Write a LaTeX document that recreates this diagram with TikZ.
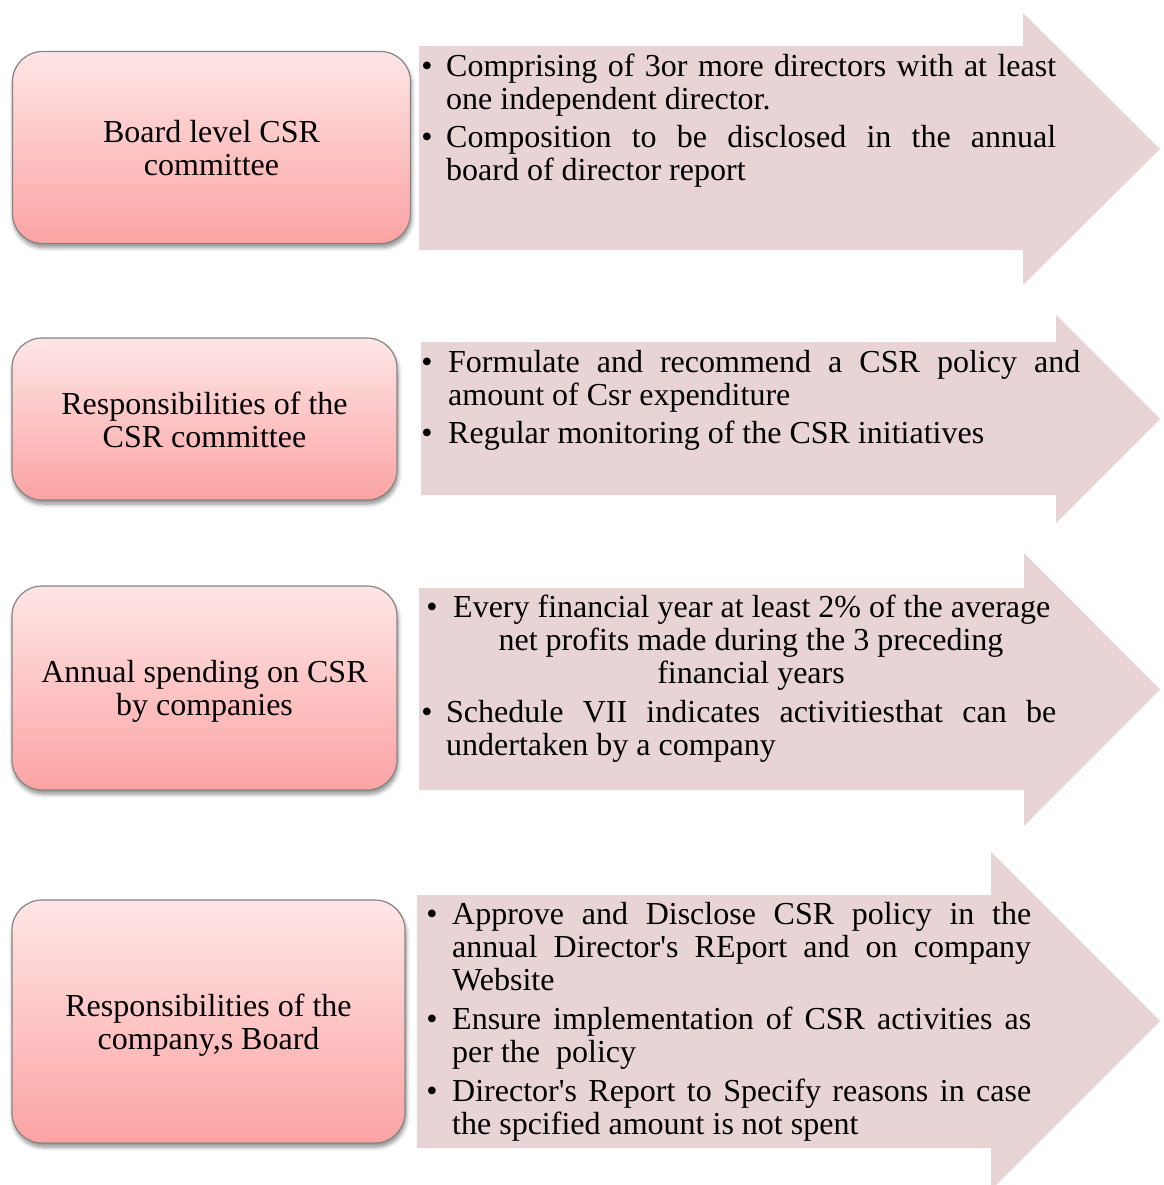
\documentclass[tikz,border=0pt]{standalone}
\usepackage{fontspec}
\setmainfont{Liberation Serif}[Ligatures=TeXOff]
\usetikzlibrary{shadows.blur}
\definecolor{arrowfill}{HTML}{E8D4D4}
\definecolor{boxtop}{HTML}{FEE6E6}
\definecolor{boxbot}{HTML}{FCA3A3}
\definecolor{boxline}{HTML}{858585}
\begin{document}
\begin{tikzpicture}[x=1pt,y=-1pt,
  every node/.style={font=\fontsize{32}{33}\selectfont, text=black},
  lbox/.style={draw=boxline, line width=1.2pt, rounded corners=30pt,
    top color=boxtop, bottom color=boxbot, inner sep=0pt,
    blur shadow={shadow xshift=1pt, shadow yshift=-4pt, shadow blur steps=6, shadow blur radius=4pt, shadow opacity=45}},
  lab/.style={align=center, inner sep=0pt},
  ln/.style={anchor=base west, inner sep=0pt},
  cl/.style={anchor=base, inner sep=0pt},
  bul/.style={anchor=base, inner sep=0pt},
  arr/.style={fill=arrowfill}
]
\useasboundingbox (0,0) rectangle (1163,1185);

% arrows
\fill[arr] (419,46) -- (1023,46) -- (1023,13) -- (1160,149) -- (1023,285) -- (1023,250) -- (419,250) -- cycle;
\fill[arr] (421,342) -- (1056,342) -- (1056,315) -- (1160,419) -- (1056,523) -- (1056,495) -- (421,495) -- cycle;
\fill[arr] (419,588) -- (1024,588) -- (1024,553) -- (1160,689.5) -- (1024,826) -- (1024,790) -- (419,790) -- cycle;
\fill[arr] (417,895) -- (991,895) -- (991,852) -- (1160,1021) -- (991,1190) -- (991,1148) -- (417,1148) -- cycle;

% left boxes
\node[lbox, minimum width=398pt, minimum height=192pt] (b1) at (211.5,147.5) {};
\node[lbox, minimum width=385pt, minimum height=162pt] (b2) at (204.5,419) {};
\node[lbox, minimum width=385pt, minimum height=204pt] (b3) at (204.5,688) {};
\node[lbox, minimum width=393pt, minimum height=243pt] (b4) at (208.5,1021.5) {};
\node[lab] (l1) at ([yshift=-1pt]b1.center) {Board level CSR\\committee};
\node[lab] (l2) at ([yshift=-1pt]b2.center) {Responsibilities of the\\CSR committee};
\node[lab] (l3) at ([yshift=-3pt]b3.center) {Annual spending on CSR\\by companies};
\node[lab] (l4) at ([yshift=-4pt]b4.center) {Responsibilities of the\\company,s Board};

% row 1 text
\node[bul] (p11) at (427,77) {•};
\node[ln] (t1a) at (446,77) {\makebox[610pt][s]{Comprising of 3or more directors with at least}};
\node[ln] (t1b) at (446,110) {one independent director.};
\node[bul] (p12) at (427,148) {•};
\node[ln] (t1c) at (446,148) {\makebox[610pt][s]{Composition to be disclosed in the annual}};
\node[ln] (t1d) at (446,181) {board of director report};

% row 2 text
\node[bul] (p21) at (427,372) {•};
\node[ln] (t2a) at (448,372) {\makebox[632pt][s]{Formulate and recommend a CSR policy and}};
\node[ln] (t2b) at (448,405) {amount of Csr expenditure};
\node[bul] (p22) at (427,443) {•};
\node[ln] (t2c) at (448,443) {Regular monitoring of the CSR initiatives};

% row 3 text
\node[bul] (p31) at (432,617) {•};
\node[ln] (t3a) at (453,617) {Every financial year at least 2\% of the average};
\node[cl] (t3b) at (751,650) {net profits made during the 3 preceding};
\node[cl] (t3c) at (751,683) {financial years};
\node[bul] (p32) at (427,722) {•};
\node[ln] (t3d) at (446,722) {\makebox[610pt][s]{Schedule VII indicates activitiesthat can be}};
\node[ln] (t3e) at (446,755) {undertaken by a company};

% row 4 text
\node[bul] (p41) at (432,924) {•};
\node[ln] (t4a) at (452,924) {\makebox[579pt][s]{Approve and Disclose CSR policy in the}};
\node[ln] (t4b) at (452,957) {\makebox[579pt][s]{annual Director's REport and on company}};
\node[ln] (t4c) at (452,990) {Website};
\node[bul] (p42) at (432,1029) {•};
\node[ln] (t4d) at (452,1029) {\makebox[579pt][s]{Ensure implementation of CSR activities as}};
\node[ln] (t4e) at (452,1062) {per the\ \ policy};
\node[bul] (p43) at (432,1101) {•};
\node[ln] (t4f) at (452,1101) {\makebox[579pt][s]{Director's Report to Specify reasons in case}};
\node[ln] (t4g) at (452,1134) {the spcified amount is not spent};
\end{tikzpicture}
\end{document}
